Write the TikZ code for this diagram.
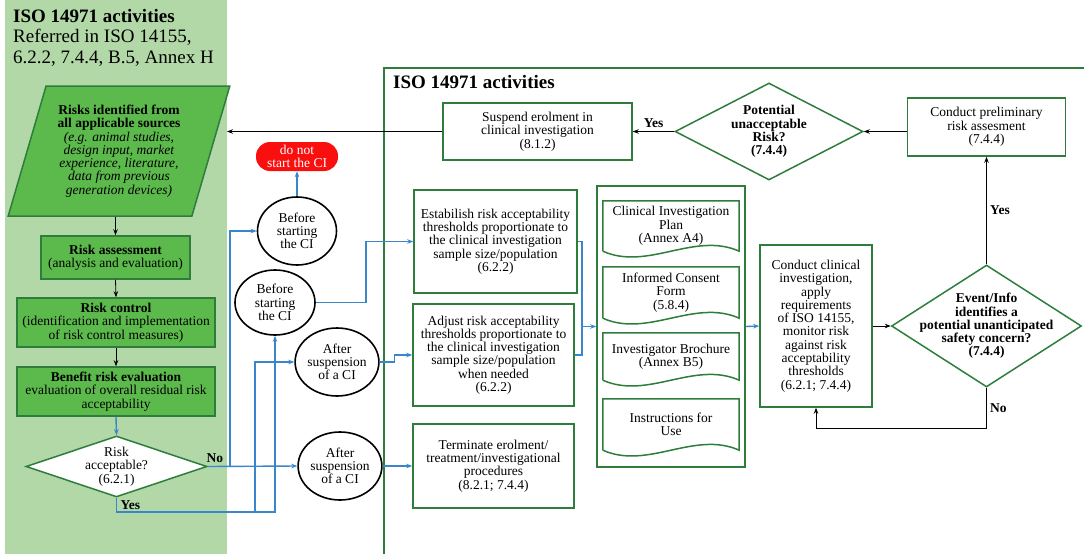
\documentclass[tikz,border=0pt]{standalone}
\usepackage{fontspec}
\setmainfont{Liberation Serif}
\usetikzlibrary{shapes.geometric,arrows.meta}

\definecolor{panelgreen}{RGB}{178,216,168}
\definecolor{fillgreen}{RGB}{92,186,76}
\definecolor{edgegreen}{RGB}{46,125,60}
\definecolor{flowblue}{RGB}{58,134,204}
\definecolor{stopred}{RGB}{250,15,15}

\tikzset{
  every node/.style={font=\fontsize{13.5}{13.3}\selectfont, align=center},
  greenbox/.style={rectangle, draw=edgegreen, line width=1.5pt, fill=fillgreen, inner sep=1pt},
  plainbox/.style={rectangle, draw=edgegreen, line width=1.5pt, fill=white, inner sep=1pt},
  decision/.style={diamond, draw=edgegreen, line width=1.5pt, fill=white, inner sep=0pt},
  oval/.style={ellipse, draw=black, line width=1.6pt, inner sep=0pt},
  docpage/.style={rectangle, inner sep=0pt, minimum width=136},
  lbl/.style={font=\fontsize{13.5}{13.3}\selectfont\bfseries, text=black},
  link/.style={->, black, line width=0.8pt},
  flow/.style={->, flowblue, line width=1.4pt},
  flowline/.style={flowblue, line width=1.4pt},
  >={Stealth[length=6pt,width=4.5pt]}
}

\begin{document}
\begin{tikzpicture}[x=1pt,y=-1pt]
\useasboundingbox (0,0) rectangle (1084,554);

% left panel
\fill[panelgreen] (5,0) rectangle (227,554);
\node[anchor=north west, align=left, inner sep=0pt, font=\fontsize{19}{20.5}\selectfont] (paneltitle) at (13,9)
  {\textbf{ISO 14971 activities}\\Referred in ISO 14155,\\6.2.2, 7.4.4, B.5, Annex H};

\node[trapezium, trapezium left angle=71, trapezium right angle=109, trapezium stretches=true,
  draw=edgegreen, line width=1.5pt, fill=fillgreen, inner sep=1pt, minimum width=222, minimum height=130] (src) at (119,151)
  {\textbf{Risks identified from}\\\textbf{all applicable sources}\\\textit{(e.g. animal studies,}\\\textit{design input, market}\\\textit{experience, literature,}\\\textit{data from previous}\\\textit{generation devices)}};
\node[greenbox, minimum width=149, minimum height=43] (assess) at (115.5,257.5)
  {\textbf{Risk assessment}\\(analysis and evaluation)};
\node[greenbox, minimum width=198, minimum height=49] (control) at (116,322.5)
  {\textbf{Risk control}\\(identification and implementation\\of risk control measures)};
\node[greenbox, minimum width=198, minimum height=49] (benefit) at (116,391.5)
  {\textbf{Benefit risk evaluation}\\evaluation of overall residual risk\\acceptability};
\node[decision, minimum width=181, minimum height=61,
  label={[name=acctext]center:{Risk\\acceptable?\\(6.2.1)}}] (acc) at (116.5,466.5) {};

% frame on the right
\draw[edgegreen, line width=1.5pt] (1084,68) -- (384,68) -- (384,554);
\node[anchor=north west, inner sep=0pt, font=\fontsize{19}{20.5}\selectfont\bfseries] (frametitle) at (393,75) {ISO 14971 activities};

% stop and decision points
\node[fill=stopred, text=white, rounded corners=14, minimum width=82, minimum height=29, inner sep=0pt] (stop) at (297,156.5) {do not\\start the CI};
\node[oval, minimum width=79, minimum height=68] (bsc1) at (297,231) {Before\\starting\\the CI};
\node[oval, minimum width=80, minimum height=65] (bsc2) at (275,302.5) {Before\\starting\\the CI};
\node[oval, minimum width=80, minimum height=68] (asus1) at (337,362) {After\\suspension\\of a CI};
\node[oval, minimum width=80, minimum height=68] (asus2) at (340,466) {After\\suspension\\of a CI};

% thresholds
\node[plainbox, minimum width=163, minimum height=103] (establish) at (495.5,241.5)
  {Estabilish risk acceptability\\thresholds proportionate to\\the clinical investigation\\sample size/population\\(6.2.2)};
\node[plainbox, minimum width=161, minimum height=102] (adjust) at (493.5,355)
  {Adjust risk acceptability\\thresholds proportionate to\\the clinical investigation\\sample size/population\\when needed\\(6.2.2)};
\node[plainbox, minimum width=161, minimum height=84] (terminate) at (493.5,466)
  {Terminate erolment/\\treatment/investigational\\procedures\\(8.2.1; 7.4.4)};

% documents
\node[draw=edgegreen, line width=1.5pt, minimum width=148, minimum height=281, inner sep=0pt] (docs) at (671,326.5) {};
\node[docpage, minimum height=50] (cip) at (671,226) {Clinical Investigation\\Plan\\(Annex A4)};
\node[docpage, minimum height=51] (icf) at (671,292.5) {Informed Consent\\Form\\(5.8.4)};
\node[docpage, minimum height=47] (ib) at (671,356.5) {Investigator Brochure\\(Annex B5)};
\node[docpage, minimum height=51] (ifu) at (671,424.5) {Instructions for\\Use};
\foreach \d in {cip,icf,ib,ifu}
  \draw[edgegreen, line width=1.5pt] (\d.south west) -- (\d.north west) -- (\d.north east) -- (\d.south east)
    .. controls +(-45,-20) and +(45,20) .. (\d.south west);

% monitoring loop
\node[plainbox, minimum width=112, minimum height=162] (conduct) at (816,326)
  {Conduct clinical\\investigation,\\apply\\requirements\\of ISO 14155,\\monitor risk\\against risk\\acceptability\\thresholds\\(6.2.1; 7.4.4)};
\node[decision, minimum width=190, minimum height=122,
  label={[name=eventtext, lbl]center:{Event/Info\\identifies a\\potential unanticipated\\safety concern?\\(7.4.4)}}] (event) at (986.5,326) {};
\node[plainbox, minimum width=158, minimum height=58] (prelim) at (986.5,127)
  {Conduct preliminary\\risk assesment\\(7.4.4)};
\node[decision, minimum width=188, minimum height=97,
  label={[name=pottext, lbl]center:{Potential\\unacceptable\\Risk?\\(7.4.4)}}] (potdia) at (769,131.5) {};
\node[plainbox, minimum width=189, minimum height=57] (suspend) at (537.5,131.5)
  {Suspend erolment in\\clinical investigation\\(8.1.2)};

% black connectors
\draw[link] (src.south -| assess.north) -- (assess.north);
\draw[link] (assess.south) -- (control.north);
\draw[link] (control.south) -- (benefit.north);
\draw[link] (conduct.east) -- (event.west);
\draw[link] (event.north) -- node[lbl, right] (yesup) {Yes} (prelim.south);
\draw[link] (event.south) -- node[lbl, right] (noback) {No} ++(0,41) -| (conduct.south);
\draw[link] (potdia.east -| prelim.west) -- (potdia.east);
\draw[link] (potdia.west) -- node[lbl, above] (yessusp) {Yes} (suspend.east);
\coordinate (paneledge) at (227,131.5);
\draw[link] (suspend.west) -- (paneledge);

% blue connectors
\draw[flow] (benefit.south) -- (acc.north);
\coordinate (nosplit) at (230,466.5);
\coordinate (yessplit) at (255,512);
\draw[flow] (acc.east) -- node[lbl, pos=0.08, above] (noacc) {No} (asus2.west);
\draw[flow] (nosplit) |- (bsc1.west);
\draw[flow] (acc.south) -- node[lbl, right] (yesacc) {Yes} (acc.south |- yessplit) -| (bsc2.south);
\draw[flow] (yessplit) |- (asus1.west);
\draw[flow] (bsc1.north) -- (stop.south);
\draw[flow] (bsc2.east) -- ++(50,0) |- (establish.west);
\draw[flow] (asus1.east) -- ++(15,0) |- (adjust.west);
\draw[flow] (asus2.east) -- (terminate.west);
\coordinate (merge) at (582,326.5);
\draw[flowline] (establish.east) -| (merge) |- (adjust.east);
\draw[flow] (merge) -- (docs.west);
\draw[flow] (docs.east) -- (conduct.west);
\end{tikzpicture}
\end{document}
